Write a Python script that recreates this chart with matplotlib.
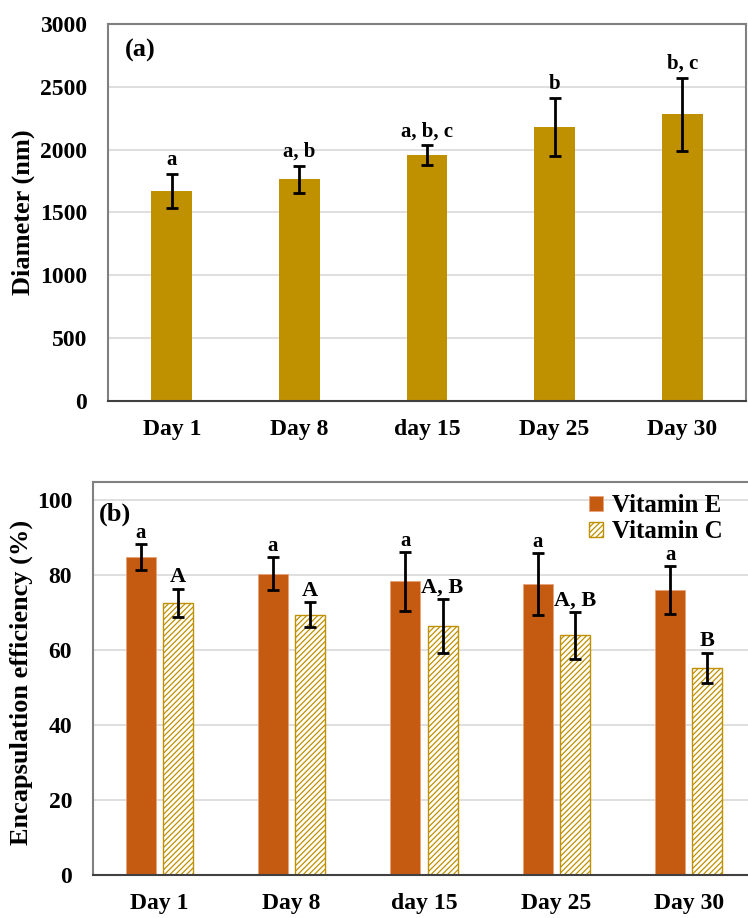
import matplotlib.pyplot as plt
import numpy as np

days = ["Day 1", "Day 8", "day 15", "Day 25", "Day 30"]

diam = [1670, 1763, 1957, 2180, 2281]
diam_sd = [137, 110, 76, 227, 290]
diam_lab = ["a", "a, b", "a, b, c", "b", "b, c"]

vit_e = [84.8, 80.4, 78.4, 77.7, 76.1]
vit_e_sd = [3.5, 4.4, 7.8, 8.2, 6.4]
vit_e_lab = ["a", "a", "a", "a", "a"]
vit_c = [72.6, 69.5, 66.4, 64.0, 55.3]
vit_c_sd = [3.8, 3.4, 7.2, 6.3, 4.1]
vit_c_lab = ["A", "A", "A, B", "A, B", "B"]

plt.rcParams['font.family'] = ['Liberation Serif', 'DejaVu Serif']
plt.rcParams['font.weight'] = 'bold'
plt.rcParams['hatch.linewidth'] = 0.9

gold = "#BF9000"
rust = "#C55A11"

fig = plt.figure(figsize=(7.48, 9.18), dpi=100)
ax1 = fig.add_axes([0.1444, 0.5632, 0.8529, 0.4107])
ax2 = fig.add_axes([0.1243, 0.0468, 0.8851, 0.4285])


def style(ax):
    ax.set_axisbelow(True)
    ax.grid(axis="y", color="#d9d9d9", linewidth=1.2)
    for s in ["left", "top", "right"]:
        ax.spines[s].set_color("#808080")
        ax.spines[s].set_linewidth(1.5)
    ax.spines["bottom"].set_color("#404040")
    ax.spines["bottom"].set_linewidth(1.5)
    ax.tick_params(length=0, labelsize=17)
    ax.tick_params(axis="y", pad=15)
    ax.tick_params(axis="x", pad=13)
    for t in ax.get_xticklabels() + ax.get_yticklabels():
        t.set_fontweight("bold")


x = np.arange(len(days))

# (a)
ax1.bar(x, diam, width=0.32, color=gold, zorder=2)
ax1.errorbar(x, diam, yerr=diam_sd, fmt="none", ecolor="black", elinewidth=2,
             capsize=4, capthick=2, zorder=3)
for i in range(len(days)):
    ax1.annotate(diam_lab[i], (x[i], diam[i] + diam_sd[i]), xytext=(0, 3),
                 textcoords="offset points", ha="center", va="bottom",
                 fontsize=15, fontweight="bold")
ax1.set_xlim(-0.5, 4.5)
ax1.set_ylim(0, 3000)
ax1.set_yticks([0, 500, 1000, 1500, 2000, 2500, 3000])
ax1.set_xticks(x)
ax1.set_xticklabels(days)
ax1.set_ylabel("Diameter (nm)", fontsize=19, fontweight="bold")
ax1.yaxis.set_label_coords(-0.115, 0.5)
ax1.text(0.027, 0.931, "(a)", transform=ax1.transAxes, fontsize=19,
         fontweight="bold", va="center")
style(ax1)

# (b)
w = 0.227
off = 0.14
ax2.bar(x - off, vit_e, width=w, color=rust, edgecolor="#e8a27a", linewidth=0.6,
        zorder=2, label="Vitamin E")
ax2.bar(x + off, vit_c, width=w, color="white", edgecolor=gold, hatch="//////",
        linewidth=1.0, zorder=2, label="Vitamin C")
ax2.errorbar(x - off, vit_e, yerr=vit_e_sd, fmt="none", ecolor="black", elinewidth=2,
             capsize=4, capthick=2, zorder=3)
ax2.errorbar(x + off, vit_c, yerr=vit_c_sd, fmt="none", ecolor="black", elinewidth=2,
             capsize=4, capthick=2, zorder=3)
for i in range(len(days)):
    ax2.annotate(vit_e_lab[i], (x[i] - off, vit_e[i] + vit_e_sd[i]), xytext=(0, 1),
                 textcoords="offset points", ha="center", va="bottom",
                 fontsize=15, fontweight="bold")
    ax2.annotate(vit_c_lab[i], (x[i] + off, vit_c[i] + vit_c_sd[i]), xytext=(0, 1),
                 textcoords="offset points", ha="center", va="bottom",
                 fontsize=16, fontweight="bold")
ax2.set_xlim(-0.5, 4.5)
ax2.set_ylim(0, 105)
ax2.set_yticks([0, 20, 40, 60, 80, 100])
ax2.set_xticks(x)
ax2.set_xticklabels(days)
ax2.set_ylabel("Encapsulation efficiency (%)", fontsize=19, fontweight="bold")
ax2.yaxis.set_label_coords(-0.09, 0.49)
ax2.text(0.009, 0.918, "(b)", transform=ax2.transAxes, fontsize=19,
         fontweight="bold", va="center")
ax2.legend(loc="upper right", bbox_to_anchor=(0.955, 0.975), frameon=False,
           fontsize=18, handlelength=0.55, handleheight=0.55, handletextpad=0.35,
           labelspacing=0.12, borderaxespad=0.0, borderpad=0.1)
style(ax2)

fig.savefig("out.png", dpi=100)
